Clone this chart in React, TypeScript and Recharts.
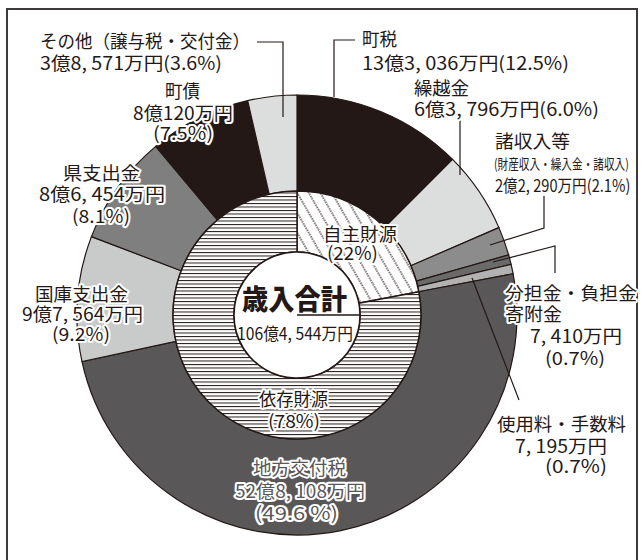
import React from 'react';
import { PieChart, Pie, Cell } from 'recharts';

// ---- data ----
const outerNames = ['町税', '繰越金', '諸収入等', '分担金・負担金寄附金', '使用料・手数料', '地方交付税', '国庫支出金', '県支出金', '町債', 'その他（譲与税・交付金）'];
const outerAmounts = ['13億3, 036万円', '6億3, 796万円', '2億2, 290万円', '7, 410万円', '7, 195万円', '52億8, 108万円', '9億7, 564万円', '8億6, 454万円', '8億120万円', '3億8, 571万円'];
const outerPercents = [12.5, 6.0, 2.1, 0.7, 0.7, 49.6, 9.2, 8.1, 7.5, 3.6];
const outerColors = ['#231815', '#dcdddd', '#8c8c8c', '#6a6a6a', '#b2b2b2', '#595757', '#c9caca', '#7f7f7f', '#231815', '#dcdddd'];

const innerNames = ['自主財源', '依存財源'];
const innerPercents = [22, 78];
const innerFills = ['url(#dotDiag)', 'url(#hLines)'];

const totalTitle = '歳入合計';
const totalAmount = '106億4, 544万円';
const subNote = '(財産収入・繰入金・諸収入)';

const outerData = outerNames.map((name, i) => ({ name, value: outerPercents[i], amount: outerAmounts[i] }));
const innerData = innerNames.map((name, i) => ({ name, value: innerPercents[i] }));
const centerData = [{ name: 'total', value: 1 }];

const FONT = '"Noto Sans CJK JP", "Noto Sans", sans-serif';
const INK = '#231815';

type TProps = { x: number; y: number; w?: number; sx?: number; children: React.ReactNode; size?: number; anchor?: 'start' | 'middle' | 'end'; fill?: string; weight?: number; halo?: boolean };
const T = ({ x, y, w, sx, children, size = 18, anchor = 'start', fill = INK, weight = 400, halo = true }: TProps) => (
  <text
    x={sx ? 0 : x}
    y={sx ? 0 : y}
    transform={sx ? `translate(${x},${y}) scale(${sx},1)` : undefined}
    fontSize={size}
    fontFamily={FONT}
    fontWeight={weight}
    textAnchor={anchor}
    dominantBaseline="central"
    fill={fill}
    stroke={halo ? '#ffffff' : 'none'}
    strokeWidth={halo ? 4 : 0}
    strokeLinejoin="round"
    textLength={w}
    lengthAdjust={w ? 'spacingAndGlyphs' : undefined}
    style={{ paintOrder: 'stroke' }}
  >
    {children}
  </text>
);

const pct = (v: number) => `(${v.toFixed(1)}%)`;

export default function App() {
  const W = 643;
  const H = 560;
  const CX = 297;
  const CY = 315;
  return (
    <div style={{ position: 'absolute', left: 0, top: 0, width: W, height: H, background: '#fff', overflow: 'hidden' }}>
      <div style={{ position: 'absolute', left: 6, top: 8, width: 628, height: 600, border: '2px solid #3e3a39' }} />
      <div style={{ position: 'absolute', left: 0, top: 0 }}>
        <PieChart width={W} height={H} margin={{ top: 0, right: 0, bottom: 0, left: 0 }}>
          <defs>
            <pattern id="hLines" patternUnits="userSpaceOnUse" width="8" height="3.5">
              <rect x="0" y="0" width="8" height="3.5" fill="#ffffff" />
              <line x1="0" y1="0.5" x2="8" y2="0.5" stroke={INK} strokeWidth="1" />
            </pattern>
            <pattern id="dotDiag" patternUnits="userSpaceOnUse" width="10" height="10" patternTransform="rotate(-30)">
              <rect x="0" y="0" width="10" height="10" fill="#ffffff" />
              <line x1="1" y1="0" x2="1" y2="10" stroke={INK} strokeWidth="1.2" strokeDasharray="1.4 1.1" />
            </pattern>
          </defs>
          <Pie
            data={outerData}
            dataKey="value"
            cx={CX}
            cy={CY}
            innerRadius={124}
            outerRadius={220}
            startAngle={90}
            endAngle={-270}
            stroke={INK}
            strokeWidth={1.2}
            isAnimationActive={false}
          >
            {outerData.map((d, i) => (
              <Cell key={d.name} fill={outerColors[i]} />
            ))}
          </Pie>
          <Pie
            data={innerData}
            dataKey="value"
            cx={CX}
            cy={CY}
            innerRadius={63}
            outerRadius={124}
            startAngle={90}
            endAngle={-270}
            stroke={INK}
            strokeWidth={1.5}
            isAnimationActive={false}
          >
            {innerData.map((d, i) => (
              <Cell key={d.name} fill={innerFills[i]} />
            ))}
          </Pie>
          <Pie
            data={centerData}
            dataKey="value"
            cx={CX}
            cy={CY}
            innerRadius={0}
            outerRadius={63}
            stroke={INK}
            strokeWidth={1.5}
            fill="#ffffff"
            isAnimationActive={false}
          />
        </PieChart>
      </div>
      <svg width={W} height={H} style={{ position: 'absolute', left: 0, top: 0, pointerEvents: 'none' }}>
        {/* leader lines */}
        <g fill="none" stroke={INK} strokeWidth={1.2}>
          <polyline points="257,42 283,42 283,117" />
          <polyline points="355,40 334,40 334,97" />
          <polyline points="460,120 460,175" />
          <polyline points="544,196 544,228 490,245" />
          <polyline points="493,262 555,246 555,273" />
          <polyline points="472,278 519,400" />
        </g>

        {/* その他 */}
        <T x={40} y={40} w={210} halo={false}>{outerNames[9]}</T>
        <T x={40} y={62} w={182} halo={false}>{outerAmounts[9] + pct(outerPercents[9])}</T>

        {/* 町税 */}
        <T x={362} y={38} w={35}>{outerNames[0]}</T>
        <T x={362} y={62} w={207}>{outerAmounts[0] + pct(outerPercents[0])}</T>

        {/* 繰越金 */}
        <T x={414} y={87} w={55}>{outerNames[1]}</T>
        <T x={414} y={108} w={185}>{outerAmounts[1] + pct(outerPercents[1])}</T>

        {/* 諸収入等 */}
        <T x={495} y={140} w={75}>{outerNames[2]}</T>
        <T x={494} y={163} sx={0.76} size={14} halo={false}>{subNote}</T>
        <T x={495} y={185} sx={0.86} size={17} halo={false}>{outerAmounts[2] + pct(outerPercents[2])}</T>

        {/* 分担金 */}
        <T x={505} y={292} w={132}>分担金・負担金</T>
        <T x={505} y={313} w={57}>寄附金</T>
        <T x={530} y={335} w={92}>{outerAmounts[3]}</T>
        <T x={545} y={357} w={60}>{pct(outerPercents[3])}</T>

        {/* 使用料 */}
        <T x={497} y={423} w={129}>{outerNames[4]}</T>
        <T x={515} y={445} w={92}>{outerAmounts[4]}</T>
        <T x={545} y={465} w={62}>{pct(outerPercents[4])}</T>

        {/* 地方交付税 */}
        <T x={299.5} y={467} w={93} anchor="middle" fill="#595757">{outerNames[5]}</T>
        <T x={300} y={490} w={130} anchor="middle" fill="#595757">{outerAmounts[5]}</T>
        <T x={296.5} y={512} w={83} anchor="middle" fill="#595757">{`(${outerPercents[5].toFixed(1)} %)`}</T>

        {/* 国庫支出金 */}
        <T x={81.5} y={293} w={93} anchor="middle">{outerNames[6]}</T>
        <T x={82.5} y={313} w={121} anchor="middle">{outerAmounts[6]}</T>
        <T x={81} y={333} w={58} anchor="middle">{pct(outerPercents[6])}</T>

        {/* 県支出金 */}
        <T x={101.5} y={172} w={77} anchor="middle">{outerNames[7]}</T>
        <T x={102} y={193} w={126} anchor="middle">{outerAmounts[7]}</T>
        <T x={101} y={215} w={58} anchor="middle">{pct(outerPercents[7])}</T>

        {/* 町債 */}
        <T x={182.5} y={90} w={35} anchor="middle">{outerNames[8]}</T>
        <T x={183} y={112} w={100} anchor="middle">{outerAmounts[8]}</T>
        <T x={183} y={132} w={60} anchor="middle">{pct(outerPercents[8])}</T>

        {/* inner */}
        <T x={360} y={233} w={74} anchor="middle">{innerNames[0]}</T>
        <T x={352.5} y={252} w={51} anchor="middle">{`(${innerPercents[0]}%)`}</T>
        <T x={293.5} y={398} w={69} anchor="middle">{innerNames[1]}</T>
        <T x={294} y={420} w={52} anchor="middle">{`(${innerPercents[1]}%)`}</T>

        {/* center */}
        <T x={294.5} y={298} w={105} anchor="middle" size={28} weight={900} halo={false}>{totalTitle}</T>
        <T x={295} y={332} w={116} anchor="middle" size={17} halo={false}>{totalAmount}</T>
      </svg>
    </div>
  );
}
